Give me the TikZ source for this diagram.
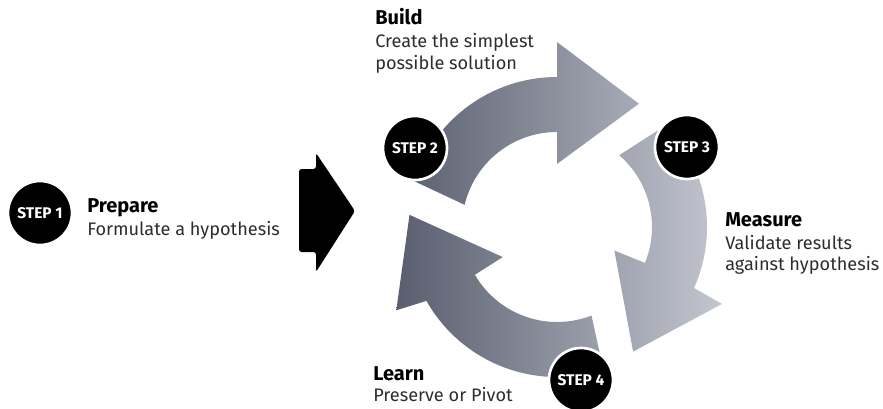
\documentclass[tikz,border=0pt]{standalone}
\usepackage{fontspec}
\setmainfont{Fira Sans}
\begin{document}
\begin{tikzpicture}[x=0.75pt,y=0.75pt]
\useasboundingbox (0,0) rectangle (883,408);
\definecolor{arrowdark}{RGB}{88,94,110}
\definecolor{arrowlight}{RGB}{196,199,209}
\definecolor{bodygray}{RGB}{45,45,45}
\tikzset{
  stepcircle/.style={circle, fill=black, draw=white, line width=2pt, minimum size=48pt, inner sep=0pt, text=white, font=\bfseries\fontsize{11.6}{13}\selectfont},
  titletext/.style={anchor=base west, inner sep=0pt, font=\bfseries\fontsize{15}{17}\selectfont, text=black},
  bodytext/.style={anchor=base west, inner sep=0pt, font=\fontsize{13.6}{16}\selectfont, text=bodygray},
}
% big entry arrow
\fill[black, rounded corners=2pt] (299,239) -- (316,239) -- (316,255) -- (355,197) -- (316,136) -- (316,156) -- (299,156) -- cycle;
% cycle arrows with a common horizontal gradient
\begin{scope}[shift={(557,181)}]
  \clip
    (162.2:150) arc[start angle=162.2, end angle=90, radius=150] -- (90:185) -- (56.4:148) -- (90:63) -- (90:95) arc[start angle=90, end angle=166.5, radius=95] -- cycle
    (43:150) arc[start angle=43, end angle=-24, radius=150] -- (-25:182) -- (-58.6:146) -- (-22.3:62) -- (-22.2:95) arc[start angle=-22.2, end angle=49.1, radius=95] -- cycle
    (288:150) arc[start angle=288, end angle=209.5, radius=150] -- (207.4:181) -- (175.3:148) -- (209:62) -- (210.2:95) arc[start angle=210.2, end angle=291.3, radius=95] -- cycle;
  \shade[left color=arrowdark, right color=arrowlight] (-162,-200) rectangle (168,230);
\end{scope}
% step circles
\node[stepcircle] (s1) at (40,195) {STEP 1};
\node[stepcircle] (s2) at (415,260) {STEP 2};
\node[stepcircle] (s3) at (687,261) {STEP 3};
\node[stepcircle] (s4) at (581,28) {STEP 4};
% texts
\node[titletext] (t1) at (87,196) {Prepare};
\node[bodytext] (b1) at (87,173) {Formulate a hypothesis};
\node[titletext] (t2) at (375,383) {Build};
\node[bodytext] (b2a) at (375,360) {Create the simplest};
\node[bodytext] (b2b) at (375,338) {possible solution};
\node[titletext] (t3) at (725,181) {Measure};
\node[bodytext] (b3a) at (725,159) {Validate results};
\node[bodytext] (b3b) at (725,138) {against hypothesis};
\node[titletext] (t4) at (373,28) {Learn};
\node[bodytext] (b4) at (373,6.3) {Preserve or Pivot};
\end{tikzpicture}
\end{document}
